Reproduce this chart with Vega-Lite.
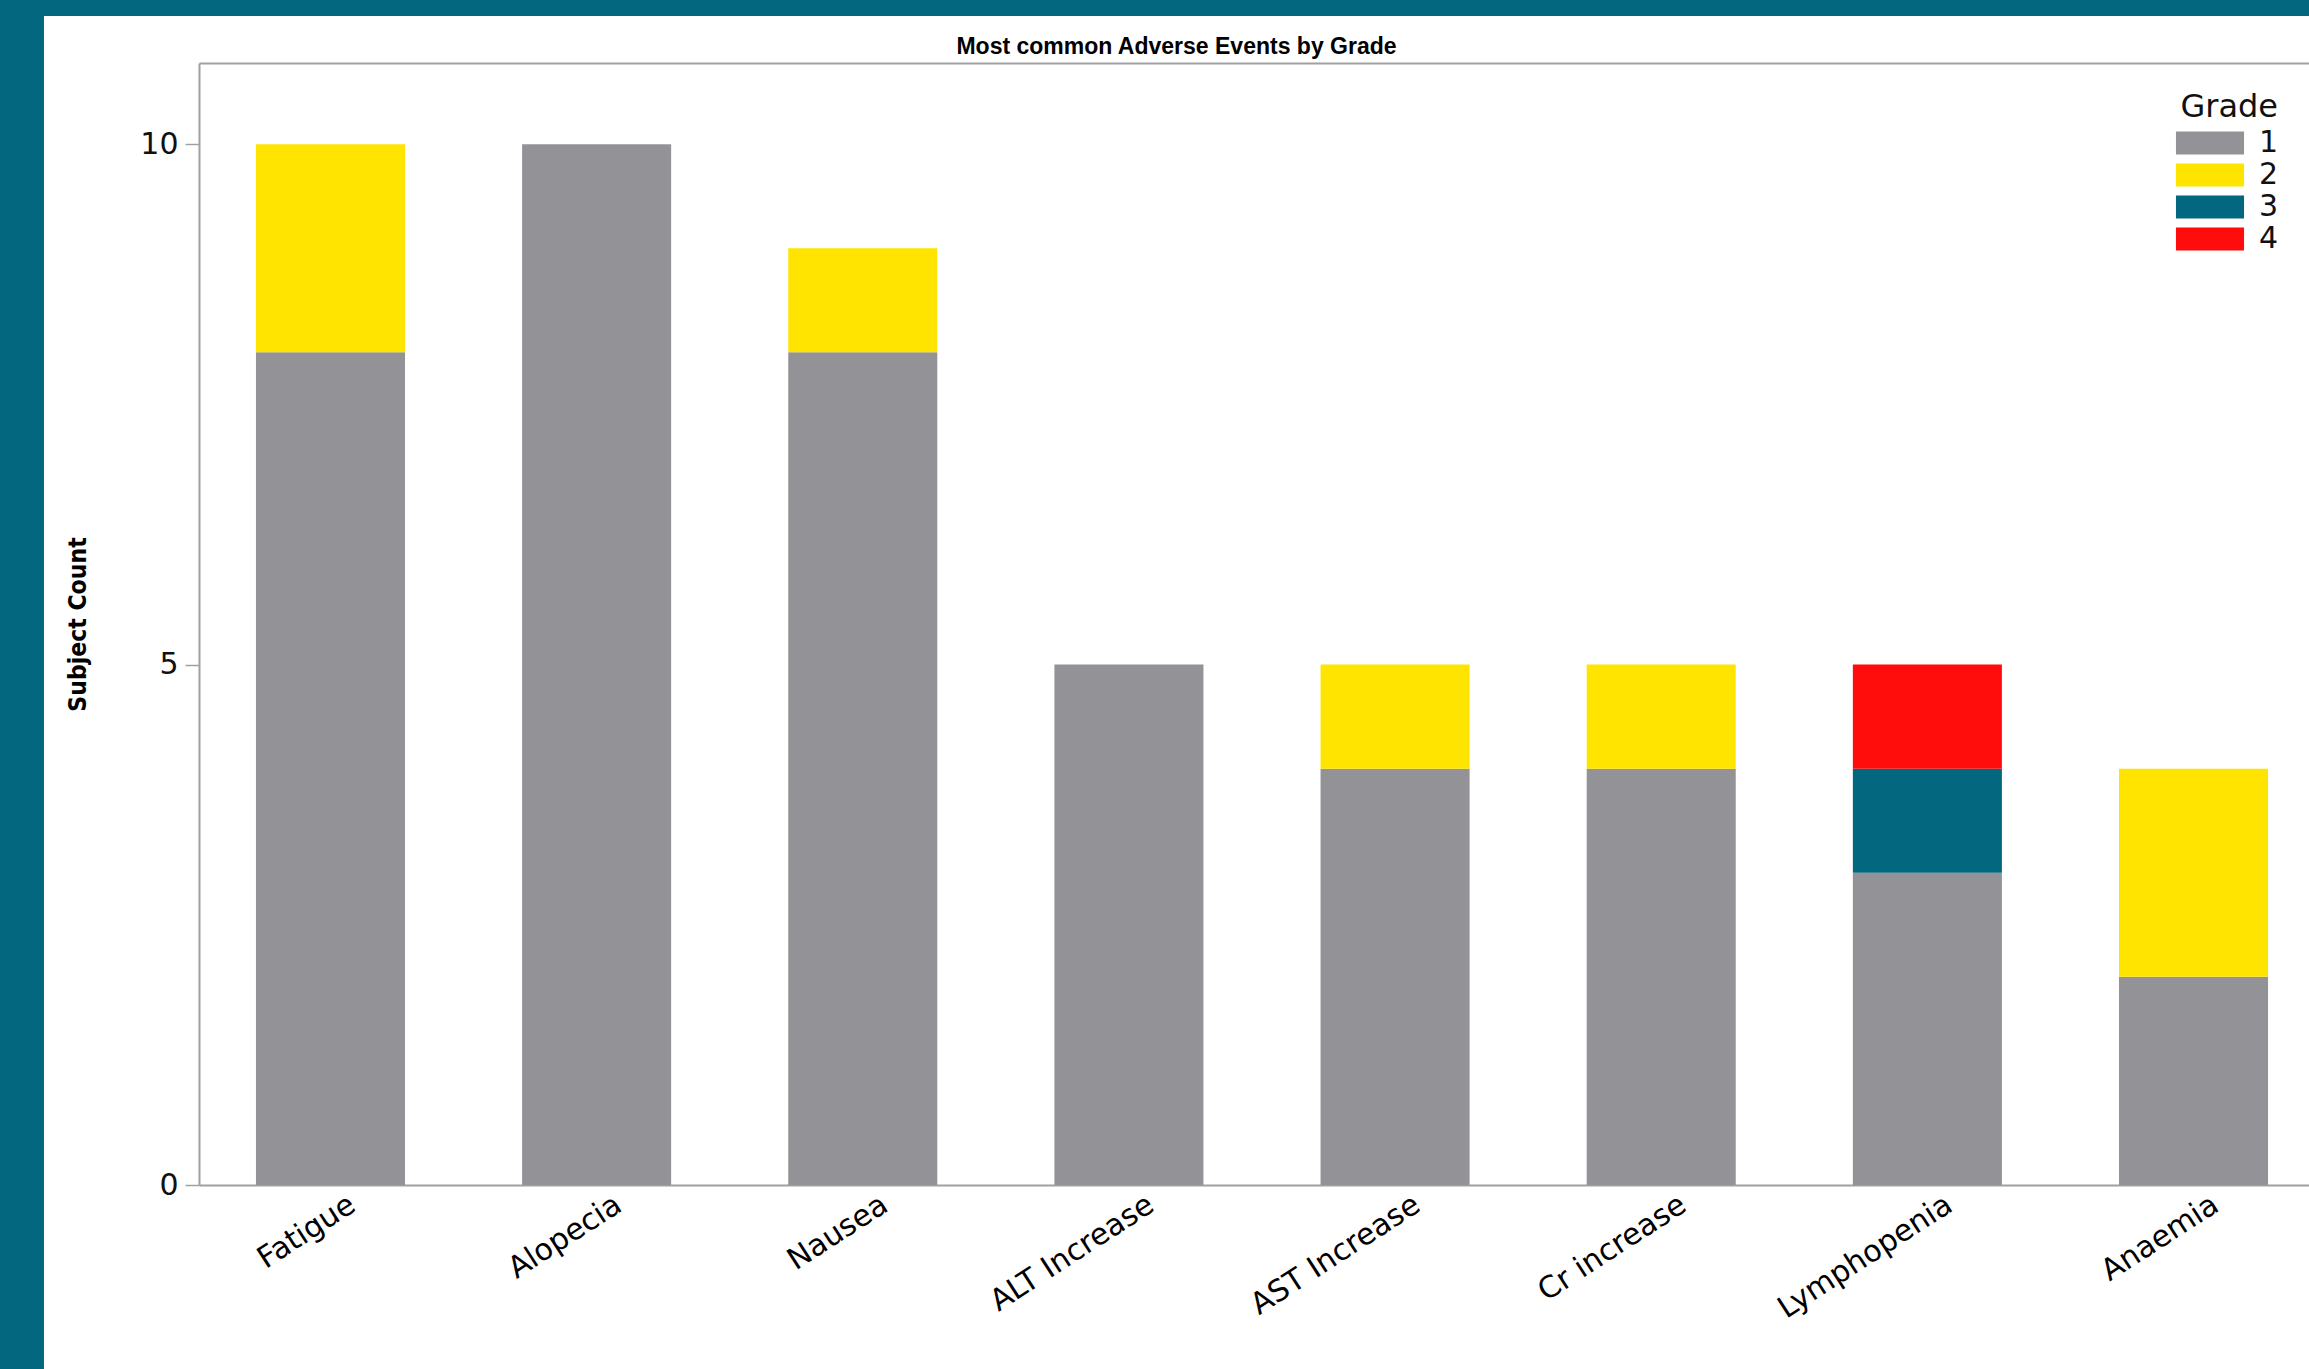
{
  "$schema": "https://vega.github.io/schema/vega-lite/v6.json",
  "width": 2265,
  "height": 1353,
  "autosize": {"type": "none"},
  "padding": {"left": 44, "top": 16, "right": 0, "bottom": 0},
  "background": "#03677F",
  "view": {"fill": "white", "stroke": null},
  "title": {
    "text": "Most common Adverse Events by Grade",
    "anchor": "middle",
    "frame": "group",
    "orient": "top",
    "offset": -61,
    "baseline": "alphabetic",
    "font": "Liberation Sans",
    "fontSize": 23,
    "fontWeight": "bold",
    "color": "#000000"
  },
  "data": {
    "values": [
      {"Event": "Fatigue", "Grade": "1", "Count": 8},
      {"Event": "Fatigue", "Grade": "2", "Count": 2},
      {"Event": "Alopecia", "Grade": "1", "Count": 10},
      {"Event": "Nausea", "Grade": "1", "Count": 8},
      {"Event": "Nausea", "Grade": "2", "Count": 1},
      {"Event": "ALT Increase", "Grade": "1", "Count": 5},
      {"Event": "AST Increase", "Grade": "1", "Count": 4},
      {"Event": "AST Increase", "Grade": "2", "Count": 1},
      {"Event": "Cr increase", "Grade": "1", "Count": 4},
      {"Event": "Cr increase", "Grade": "2", "Count": 1},
      {"Event": "Lymphopenia", "Grade": "1", "Count": 3},
      {"Event": "Lymphopenia", "Grade": "3", "Count": 1},
      {"Event": "Lymphopenia", "Grade": "4", "Count": 1},
      {"Event": "Anaemia", "Grade": "1", "Count": 2},
      {"Event": "Anaemia", "Grade": "2", "Count": 2}
    ]
  },
  "layer": [
    {
      "mark": {"type": "bar"},
      "encoding": {
        "x": {
          "field": "Event",
          "type": "nominal",
          "sort": null,
          "scale": {"range": [155, 2281], "paddingInner": 0.44, "paddingOuter": 0.214},
          "axis": {
            "orient": "bottom",
            "offset": -184,
            "title": null,
            "labelAngle": -33,
            "labelFont": "DejaVu Sans",
            "labelFontSize": 30,
            "labelColor": "#000000",
            "labelOffset": 14,
            "labelPadding": 4,
            "labelLimit": 400,
            "ticks": false,
            "domainColor": "#A0A0A0",
            "domainWidth": 2,
            "grid": false
          }
        },
        "y": {
          "field": "Count",
          "type": "quantitative",
          "stack": "zero",
          "scale": {"domain": [0, 10.78], "range": [1169, 47], "nice": false, "zero": true},
          "axis": {
            "values": [0, 5, 10],
            "offset": -155,
            "title": "Subject Count",
            "titleFont": "DejaVu Sans Condensed, sans-serif",
            "titleFontSize": 24.5,
            "titleFontWeight": "bold",
            "titleColor": "#000000",
            "titlePadding": 49,
            "labelFont": "DejaVu Sans",
            "labelFontSize": 30,
            "labelColor": "#111111",
            "labelPadding": 7,
            "tickSize": 14,
            "tickColor": "#A0A0A0",
            "tickWidth": 1.5,
            "domainColor": "#A0A0A0",
            "domainWidth": 2,
            "grid": false
          }
        },
        "color": {
          "field": "Grade",
          "type": "nominal",
          "scale": {"domain": ["1", "2", "3", "4"], "range": ["#939397", "#FFE400", "#03677F", "#FF0D0D"]},
          "legend": {
            "orient": "none",
            "legendX": 2136,
            "legendY": 76,
            "title": "Grade",
            "titleFont": "DejaVu Sans",
            "titleFontSize": 32,
            "titleFontWeight": "normal",
            "titleColor": "#111111",
            "titleAnchor": "end",
            "titlePadding": 4,
            "labelFont": "DejaVu Sans",
            "labelFontSize": 30,
            "labelColor": "#111111",
            "symbolType": "M-2.96,-1H2.96V1H-2.96Z",
            "symbolSize": 529,
            "symbolStrokeWidth": 0,
            "labelOffset": 34,
            "rowPadding": 2,
            "padding": 0
          }
        },
        "order": {"field": "Grade", "sort": "ascending"}
      }
    },
    {
      "mark": {"type": "rule", "opacity": 0},
      "encoding": {
        "x": {
          "field": "Event",
          "type": "nominal",
          "sort": null,
          "scale": {"range": [155, 2281], "paddingInner": 0.44, "paddingOuter": 0.214},
          "axis": {
            "orient": "top",
            "offset": -47,
            "title": null,
            "labels": false,
            "ticks": false,
            "domainColor": "#A0A0A0",
            "domainWidth": 2,
            "grid": false
          }
        }
      }
    }
  ],
  "resolve": {"axis": {"x": "independent"}}
}
